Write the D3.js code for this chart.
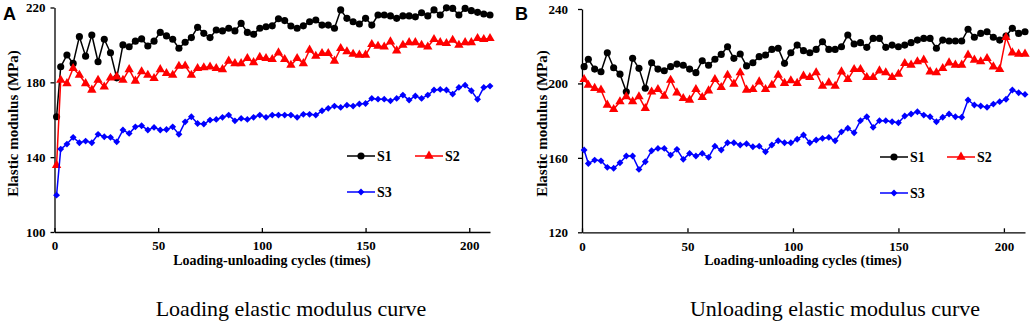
<!DOCTYPE html>
<html>
<head>
<meta charset="utf-8">
<script src="https://cdn.jsdelivr.net/npm/d3@7"></script>
<style>
    body { margin: 0; background: #fff; }
    svg { display: block; }
</style>
</head>
<body>
<div id="main"></div>
<script>
// loading-unloading cycle at which each modulus value was measured
var cycles = [1, 3, 6, 9, 12, 15, 18, 21, 24, 27, 30, 33, 36, 39, 42, 45, 48, 51, 54, 57,
    60, 63, 66, 69, 72, 75, 78, 81, 84, 87, 90, 93, 96, 99, 102, 105, 108, 111, 114, 117,
    120, 123, 126, 129, 132, 135, 138, 141, 144, 147, 150, 153, 156, 159, 162, 165, 168, 171, 174, 177,
    180, 183, 186, 189, 192, 195, 198, 201, 204, 207, 210];

// loading elastic modulus (MPa)
var loadS1 = [161.6, 188.3, 194.6, 190.1, 204.4, 194, 205.3, 191, 203, 195.8,
    182.4, 200, 199, 202, 203.2, 199.4, 202, 206.7, 204.8, 203,
    198.2, 201.4, 203.9, 209.4, 206.2, 203.9, 208, 207.5, 208.9, 207.5,
    211.5, 206.7, 205.7, 208.9, 209.7, 210.2, 214, 213, 210.1, 208.9,
    210.2, 212.4, 213.3, 210.6, 210.6, 208.9, 218.7, 214.2, 212.4, 211.2,
    214.2, 210.6, 216, 216, 215.5, 214.2, 215.5, 215.5, 215, 217.2,
    215.5, 218.7, 216, 219.8, 219.5, 216, 219.5, 218.3, 217.4, 216.5, 216];
var loadS2 = [135.7, 181.2, 179.4, 187.5, 183.9, 179.4, 175.9, 181.2, 177.6, 182.4,
    183, 181.2, 186.9, 180.7, 185.7, 183.9, 182.1, 186.9, 184.8, 183.9,
    188.7, 188.8, 183.9, 187.5, 187.9, 188.3, 187.5, 186.9, 191.4, 190.1,
    190.1, 192.8, 190.6, 193.4, 192.8, 192.3, 195.8, 192.3, 189.2, 192.8,
    190.1, 197.3, 194, 195.5, 195.5, 191.4, 198.2, 196.4, 195.1, 194.6,
    194.6, 200.3, 199.4, 199, 201.7, 196.9, 199.9, 201.3, 201.3, 199.9,
    199, 203, 201.3, 200.8, 202.6, 199.9, 201.3, 201.3, 203.5, 203, 203.5];
var loadS3 = [119.7, 144.3, 147, 150.6, 147.7, 148.6, 147.7, 152.2, 150.9, 150.6,
    148.2, 154.5, 152.7, 156.2, 156.8, 154.5, 155.9, 154.5, 154.8, 156.2,
    152.2, 158.9, 161.6, 158, 157.7, 159.8, 160.2, 161.3, 162.5, 159.4,
    160.7, 160.2, 161.3, 162.5, 161.3, 162.5, 162.5, 162.5, 162.5, 161.3,
    162.9, 162.9, 162.5, 164.8, 166.1, 167.3, 166.6, 167.8, 167.3, 168.4,
    168.7, 171.4, 171, 171, 170.1, 171.4, 173.2, 170.5, 172.7, 171.4,
    173.2, 175.9, 176.2, 175.9, 173.7, 177.3, 178.5, 175.5, 170.9, 177.3, 178];

// unloading elastic modulus (MPa)
var unloadS1 = [209, 213, 207.7, 206.3, 216.5, 208.4, 205, 195.5, 213.5, 208.1,
    197.4, 211.1, 207.7, 206.8, 209, 210.4, 209.8, 207.7, 205.8, 212.2,
    209.8, 213, 215.6, 219.7, 213.5, 215.8, 209.4, 211.1, 214.4, 215.3,
    218.3, 218.9, 210.8, 216.5, 220.6, 217.6, 216.5, 218.3, 222.4, 218.3,
    218.3, 219.7, 226, 221.2, 221.9, 219.4, 224.2, 224.2, 219.4, 220.6,
    219.7, 220.6, 221.9, 223.3, 224.2, 224.2, 218.9, 223.3, 222.8, 222.8,
    222.8, 229.1, 224.8, 226.9, 227.8, 224.8, 223.3, 225.5, 229.6, 226.9, 227.8];
var unloadS2 = [202.2, 199.1, 197.4, 196.5, 188.4, 186.1, 190.2, 192.9, 190.2, 192.9,
    186.6, 195.5, 196.8, 193.2, 201.8, 195, 192, 191.1, 196.8, 192.5,
    196.1, 202.2, 197.9, 204.5, 199.7, 205.8, 196.5, 196.8, 200.9, 196.8,
    199.1, 204.5, 200.1, 201.5, 200.1, 204, 203.3, 205.8, 198.6, 200.4,
    198.6, 206.3, 202.2, 207.6, 207.6, 203.3, 203.3, 206.8, 205.8, 203.3,
    205, 210.8, 209.9, 211.7, 212.6, 206.3, 205.8, 208.1, 211.1, 209.9,
    209.9, 215.3, 212.6, 211.7, 213.5, 209, 207.6, 224.8, 216.5, 215.8, 215.8];
var unloadS3 = [164.2, 157, 158.8, 158.4, 154.9, 154.4, 157.4, 161, 161, 153.8,
    157.9, 163.8, 165.1, 165.1, 161.5, 164.6, 159.2, 162.4, 161, 162.4,
    160.3, 166.3, 164.2, 168.1, 168.1, 166.9, 167.6, 166, 166.3, 163.3,
    166.9, 169.2, 168.1, 168.1, 170, 172.3, 168.1, 169.6, 170.5, 171,
    169.2, 174, 175.9, 173.5, 180, 182.1, 176.4, 180, 180, 179.4,
    178.9, 182.5, 183.6, 184.8, 183, 182.1, 179.4, 181.8, 183.6, 182.1,
    181.8, 191.1, 188.4, 187.9, 187.2, 188.9, 190.2, 191.5, 196.5, 195, 194.1];

var seriesNames = ["S1", "S2", "S3"];
var xTicks = [0, 50, 100, 150, 200];
var loadYTicks = [100, 140, 180, 220];
var unloadYTicks = [120, 160, 200, 240];

var serif = "'Times New Roman', 'Liberation Serif', serif";
var colors = ["#000000", "#ff0000", "#0000ff"];
var symbols = [
    d3.symbol().type(d3.symbolCircle).size(40),
    d3.symbol().type(d3.symbolTriangle).size(38),
    d3.symbol().type(d3.symbolDiamond2).size(30),
];

var panels = [
    {
        letter: "A", letterX: 3,
        caption: "Loading elastic modulus curve", captionX: 291,
        series: [loadS1, loadS2, loadS3], yTicks: loadYTicks,
        xRange: [54.5, 490], yRange: [232, 7.5], yPad: 5,
        xTitleX: 272, yTitleX: 18,
        legend: [[347, 156], [415, 156], [347, 192]],
    },
    {
        letter: "B", letterX: 515,
        caption: "Unloading elastic modulus curve", captionX: 835,
        series: [unloadS1, unloadS2, unloadS3], yTicks: unloadYTicks,
        xRange: [582, 1025], yRange: [232.3, 9], yPad: 10,
        xTitleX: 803, yTitleX: 547,
        legend: [[880, 157], [947, 157], [880, 193]],
    },
];

var svg = d3
    .select("#main")
    .append("svg")
    .attr("width", 1031)
    .attr("height", 325);

svg.append("rect").attr("width", 1031).attr("height", 325).attr("fill", "#fff");

panels.forEach(function (p) {
    var yDom = d3.extent(p.yTicks);
    var x = d3.scaleLinear().domain([0, 210]).range(p.xRange);
    var y = d3.scaleLinear().domain(yDom).range(p.yRange);
    var g = svg.append("g");

    // axes
    var xAxis = g
        .append("g")
        .attr("transform", "translate(0," + p.yRange[0] + ")")
        .call(d3.axisBottom(x).tickValues(xTicks).tickSizeInner(-4).tickSizeOuter(0).tickPadding(9));
    var yAxis = g
        .append("g")
        .attr("transform", "translate(" + p.xRange[0] + ",0)")
        .call(d3.axisLeft(y).tickValues(p.yTicks).tickSizeInner(4).tickSizeOuter(0).tickPadding(p.yPad));

    [xAxis, yAxis].forEach(function (a) {
        a.attr("font-family", serif).attr("font-size", 13).attr("font-weight", "bold");
        a.selectAll("path, line").attr("stroke", "#000").attr("stroke-width", 1.3);
        a.selectAll("text").attr("fill", "#000");
    });

    // series lines and markers
    var line = d3
        .line()
        .x(function (d, i) { return x(cycles[i]); })
        .y(function (d) { return y(d); });

    p.series.forEach(function (vals, s) {
        g.append("path")
            .datum(vals)
            .attr("d", line)
            .attr("fill", "none")
            .attr("stroke", colors[s])
            .attr("stroke-width", 1.5)
            .attr("stroke-linejoin", "round");
        g.selectAll(".pt" + s)
            .data(vals)
            .enter()
            .append("path")
            .attr("class", "pt" + s)
            .attr("d", symbols[s])
            .attr("transform", function (d, i) {
                return "translate(" + x(cycles[i]) + "," + y(d) + ")";
            })
            .attr("fill", colors[s]);
    });

    // legend
    p.legend.forEach(function (pos, s) {
        var lg = g.append("g").attr("transform", "translate(" + pos[0] + "," + pos[1] + ")");
        lg.append("line")
            .attr("x1", 0).attr("x2", 28)
            .attr("stroke", colors[s]).attr("stroke-width", 1.5);
        lg.append("path").attr("d", symbols[s]).attr("transform", "translate(14,0)").attr("fill", colors[s]);
        lg.append("text")
            .attr("x", 30).attr("y", 5)
            .attr("font-family", serif).attr("font-size", 14).attr("font-weight", "bold")
            .text(seriesNames[s]);
    });

    // titles
    g.append("text")
        .attr("x", p.xTitleX).attr("y", 265)
        .attr("text-anchor", "middle")
        .attr("font-family", serif).attr("font-size", 14).attr("font-weight", "bold")
        .text("Loading-unloading cycles (times)");
    g.append("text")
        .attr("transform", "translate(" + p.yTitleX + "," + 123.5 + ") rotate(-90)")
        .attr("text-anchor", "middle")
        .attr("font-family", serif).attr("font-size", 15).attr("font-weight", "bold")
        .text("Elastic modulus (MPa)");
    g.append("text")
        .attr("x", p.letterX).attr("y", 20)
        .attr("font-family", "Arial, 'Liberation Sans', sans-serif").attr("font-size", 18).attr("font-weight", "bold")
        .text(p.letter);
    g.append("text")
        .attr("x", p.captionX).attr("y", 316)
        .attr("text-anchor", "middle")
        .attr("font-family", serif).attr("font-size", 22)
        .text(p.caption);
});
</script>
</body>
</html>
